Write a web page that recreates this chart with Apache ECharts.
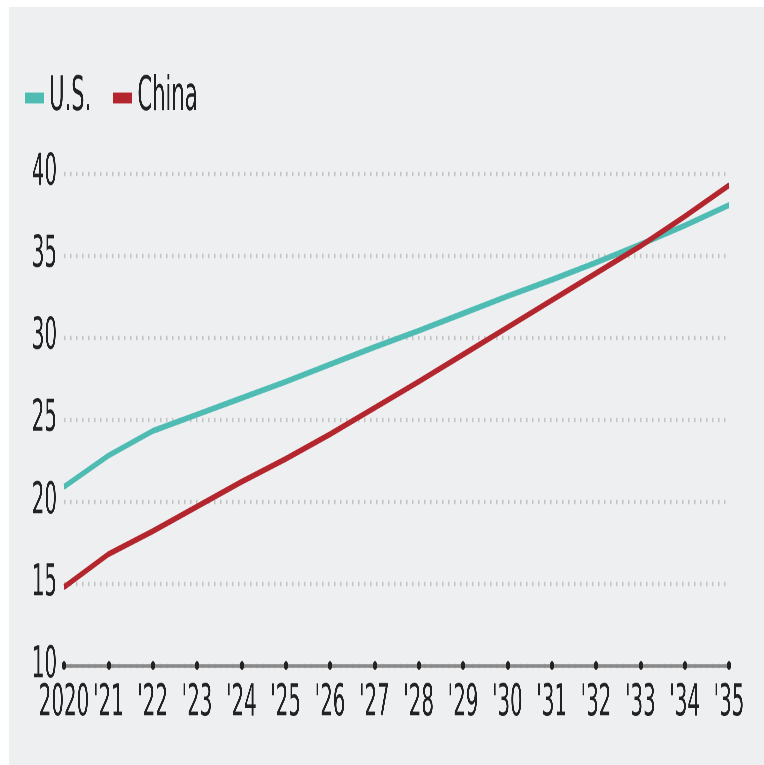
<!DOCTYPE html>
<html>
<head>
<meta charset="utf-8">
<script src="https://cdn.jsdelivr.net/npm/echarts@6/dist/echarts.min.js"></script>
<style>
  html, body { margin:0; padding:0; background:#ffffff; width:764px; height:765px; overflow:hidden; }
  #panel { position:absolute; left:9px; top:7px; right:0; bottom:0; background:#eeeff1; }
  #chart { position:absolute; left:0; top:0; width:764px; height:382.5px; transform:scaleY(2); transform-origin:0 0; }
</style>
</head>
<body>
<div id="panel"></div>
<div id="chart"></div>
<script>
// Categories (years) and tick labels
const years = [2020,2021,2022,2023,2024,2025,2026,2027,2028,2029,2030,2031,2032,2033,2034,2035];
const yearLabels = ["2020","'21","'22","'23","'24","'25","'26","'27","'28","'29","'30","'31","'32","'33","'34","'35"];
// Series values
const usValues    = [20.9, 22.8, 24.3, 25.3, 26.3, 27.3, 28.35, 29.4, 30.4, 31.45, 32.5, 33.5, 34.55, 35.65, 36.8, 38.05];
const chinaValues = [14.8, 16.8, 18.2, 19.7, 21.2, 22.6, 24.1, 25.7, 27.3, 28.95, 30.6, 32.25, 33.9, 35.55, 37.35, 39.25];
const yTicks = { min: 10, max: 40, interval: 5 };

const FONT = '"DejaVu Sans Condensed", "Liberation Sans", sans-serif';
const chart = echarts.init(document.getElementById('chart'), null, { renderer: 'canvas', devicePixelRatio: 3 });
chart.setOption({
  backgroundColor: 'transparent',
  animation: false,
  legend: {
    left: 20, top: 32,
    itemWidth: 19, itemHeight: 5.5, itemGap: 22,
    icon: 'rect',
    textStyle: { fontFamily: FONT, fontSize: 23.5, color: '#222' },
    data: ['U.S.', 'China']
  },
  grid: { left: 64, right: 35, top: 86.5, bottom: 50, containLabel: false },
  xAxis: {
    type: 'category',
    boundaryGap: false,
    data: yearLabels,
    axisLine: { show: true, lineStyle: { color: '#8a8a8a', width: 1.8 } },
    axisTick: { show: true, alignWithLabel: true, inside: true, length: 0.5, lineStyle: { color: '#222', width: 4, cap: 'round' } },
    axisLabel: { interval: 0, hideOverlap: false, margin: 8, fontFamily: FONT, fontSize: 22, color: '#222' },
    splitLine: { show: false }
  },
  yAxis: {
    type: 'value',
    min: yTicks.min, max: yTicks.max, interval: yTicks.interval,
    axisLine: { show: false },
    axisTick: { show: false },
    axisLabel: { margin: 7, fontFamily: FONT, fontSize: 22, color: '#222' },
    splitLine: { show: true, lineStyle: { color: '#c4c4c4', width: 2.2, type: [1.5, 4.5] } }
  },
  series: [
    { name: 'U.S.', type: 'line', data: usValues, showSymbol: false, symbol: 'none', color: '#4fbcb4',
      lineStyle: { width: 3, color: '#4fbcb4' }, z: 3 },
    { name: 'China', type: 'line', data: chinaValues, showSymbol: false, symbol: 'none', color: '#b3262d',
      lineStyle: { width: 3, color: '#b3262d' }, z: 4 }
  ]
});
</script>
</body>
</html>
